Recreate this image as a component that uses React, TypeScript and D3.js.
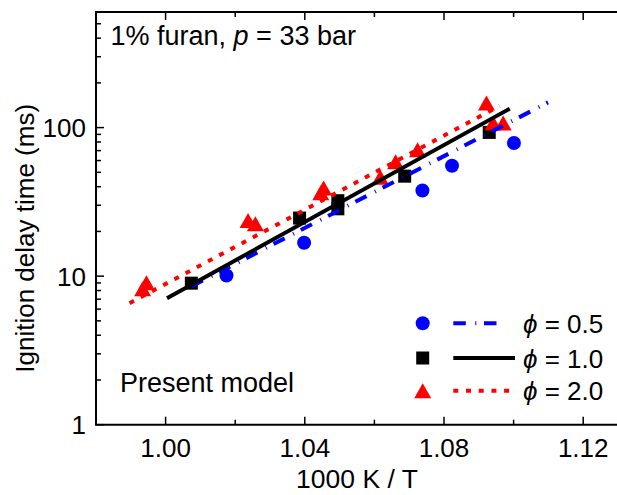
import React from "react";
import * as d3 from "d3";

// ---- data ----
const phi05X = [1.0175, 1.0398, 1.0738, 1.0823, 1.1001];
const phi05Y = [10.1, 16.8, 37.7, 55.4, 78.7];

const phi10X = [1.0074, 1.0385, 1.0495, 1.0495, 1.0687, 1.093];
const phi10Y = [8.97, 24.6, 32.2, 28.4, 47.1, 92.8];

const phi20X = [0.9945, 0.9934, 1.0237, 1.0258, 1.0454, 1.0446, 1.0617, 1.0661, 1.0724, 1.0922, 1.0941, 1.097];
const phi20Y = [9.01, 8.21, 23.7, 22.5, 39.2, 36.4, 46.3, 58.9, 71.0, 146.5, 107.4, 107.4];

// model lines (endpoints)
const model05X = [1.0075, 1.1099];
const model05Y = [8.54, 147.8];
const model10X = [1.0004, 1.0989];
const model10Y = [7.11, 134];
const model20X = [0.98965, 1.096];
const model20Y = [6.58, 140];

const xMajorTicks = [1.0, 1.04, 1.08, 1.12];
const xMinorTicks = [0.98, 1.02, 1.06, 1.1];
const xTickLabels = ["1.00", "1.04", "1.08", "1.12"];
const yMajorTicks = [1, 10, 100];
const yTickLabels = ["1", "10", "100"];

const legendLabels = ["0.5", "1.0", "2.0"];

const FONT = "'Liberation Sans', Arial, sans-serif";

export default function App() {
  const W = 617, H = 495;
  const left = 96, right = 618, top = 12, bottom = 424.7;
  const x = d3.scaleLinear().domain([0.98, 1.13]).range([left, right]);
  const y = d3.scaleLog().domain([1, 600]).range([bottom, top]);

  const yMinor: number[] = [];
  for (const dec of [1, 10, 100]) {
    for (let k = 2; k <= 9; k++) {
      const v = k * dec;
      if (v <= 600) yMinor.push(v);
    }
  }

  const line = d3
    .line<[number, number]>()
    .x((d) => x(d[0]))
    .y((d) => y(d[1]));
  const pts = (xs: number[], ys: number[]) => xs.map((v, i) => [v, ys[i]] as [number, number]);

  const blue = "#0000ff";
  const red = "#ff0000";
  const tri = (cx: number, cy: number, key: string | number) => (
    <path
      key={key}
      d={`M${cx},${cy - 7.5}L${cx + 8.5},${cy + 7.5}L${cx - 8.5},${cy + 7.5}Z`}
      fill={red}
    />
  );

  const blueDash = "12.5 9.5 1 7.7";
  const redDash = "5 7.7";

  const legY = [323.3, 358, 390.7];

  return (
    <svg
      width={W}
      height={H}
      style={{ position: "absolute", left: 0, top: 0, background: "#fff" }}
      fontFamily={FONT}
    >
      <rect x={0} y={0} width={W} height={H} fill="#fff" />
      {/* markers */}
      {pts(phi05X, phi05Y).map((d, i) => (
        <circle key={"c" + i} cx={x(d[0])} cy={y(d[1])} r={7} fill={blue} />
      ))}
      {pts(phi10X, phi10Y).map((d, i) => (
        <rect key={"s" + i} x={x(d[0]) - 6.5} y={y(d[1]) - 6.5} width={13} height={13} fill="#000" />
      ))}
      {pts(phi20X, phi20Y).map((d, i) => tri(x(d[0]), y(d[1]), "t" + i))}

      {/* model lines */}
      <path d={line(pts(model05X, model05Y)) || ""} stroke={blue} strokeWidth={4} fill="none" strokeDasharray={blueDash} />
      <path d={line(pts(model10X, model10Y)) || ""} stroke="#000" strokeWidth={4} fill="none" />
      <path d={line(pts(model20X, model20Y)) || ""} stroke={red} strokeWidth={4} fill="none" strokeDasharray={redDash} />

      {/* frame */}
      <path d={`M${left},${top}V${bottom}H${right}V${top}Z`} stroke="#000" strokeWidth={2} fill="none" />

      {/* x ticks */}
      {xMajorTicks.map((t, i) => (
        <g key={"xm" + i}>
          <line x1={x(t)} x2={x(t)} y1={bottom} y2={bottom - 8} stroke="#000" strokeWidth={1.5} />
          <line x1={x(t)} x2={x(t)} y1={top} y2={top + 8} stroke="#000" strokeWidth={1.5} />
          <text x={x(t)} y={457} textAnchor="middle" fontSize={26} fill="#000">
            {xTickLabels[i]}
          </text>
        </g>
      ))}
      {xMinorTicks.map((t, i) => (
        <g key={"xn" + i}>
          <line x1={x(t)} x2={x(t)} y1={bottom} y2={bottom - 5} stroke="#000" strokeWidth={1.5} />
          <line x1={x(t)} x2={x(t)} y1={top} y2={top + 5} stroke="#000" strokeWidth={1.5} />
        </g>
      ))}
      {/* y ticks */}
      {yMajorTicks.map((t, i) => (
        <g key={"ym" + i}>
          <line x1={left} x2={left + 8} y1={y(t)} y2={y(t)} stroke="#000" strokeWidth={1.5} />
          <text x={86} y={y(t)} dy="0.36em" textAnchor="end" fontSize={26} fill="#000">
            {yTickLabels[i]}
          </text>
        </g>
      ))}
      {yMinor.map((t, i) => (
        <line key={"yn" + i} x1={left} x2={left + 5} y1={y(t)} y2={y(t)} stroke="#000" strokeWidth={1.5} />
      ))}

      {/* axis titles */}
      <text x={(left + right) / 2} y={488} textAnchor="middle" fontSize={26.5} fill="#000">
        1000 K / T
      </text>
      <text
        transform={`translate(34,${(top + bottom) / 2 + 20}) rotate(-90)`}
        textAnchor="middle"
        fontSize={26}
        fill="#000"
      >
        Ignition delay time (ms)
      </text>

      {/* annotations */}
      <text x={110.5} y={45} fontSize={27} fill="#000">
        1% furan, <tspan fontStyle="italic">p</tspan> = 33 bar
      </text>
      <text x={120} y={391.5} fontSize={27} fill="#000">
        Present model
      </text>

      {/* legend */}
      <circle cx={422.7} cy={legY[0]} r={7} fill={blue} />
      <line x1={453.3} x2={506} y1={legY[0]} y2={legY[0]} stroke={blue} strokeWidth={4} strokeDasharray={blueDash} />
      <rect x={422.7 - 6.5} y={legY[1] - 6.5} width={13} height={13} fill="#000" />
      <line x1={453.3} x2={515} y1={legY[1]} y2={legY[1]} stroke="#000" strokeWidth={4} />
      {tri(422.7, legY[2], "lt")}
      <line x1={453.3} x2={514} y1={legY[2]} y2={legY[2]} stroke={red} strokeWidth={4} strokeDasharray={redDash} />
      {legendLabels.map((lab, i) => (
        <text key={"lg" + i} x={523} y={legY[i] + 9.5} fontSize={26} fill="#000">
          <tspan fontStyle="italic">{"\u03d5"}</tspan> = {lab}
        </text>
      ))}
    </svg>
  );
}
